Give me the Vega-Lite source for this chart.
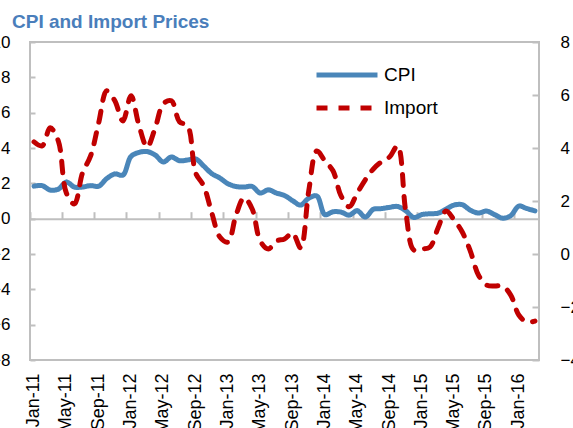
{
  "$schema": "https://vega.github.io/schema/vega-lite/v6.json",
  "width": 509,
  "height": 318,
  "autosize": {"type": "none"},
  "padding": {"left": 30, "top": 42, "right": 34, "bottom": 68},
  "title": {"text": "CPI and Import Prices", "anchor": "start", "frame": "group", "dx": -18, "offset": 1, "fontSize": 19, "fontWeight": "bold", "color": "#4A7EBB", "font": "Liberation Sans"},
  "data": {"values": [
    {"month": "Jan-11", "CPI": 1.84, "Import": 4.23},
    {"month": "Feb-11", "CPI": 1.87, "Import": 4.08},
    {"month": "Mar-11", "CPI": 1.62, "Import": 4.76},
    {"month": "Apr-11", "CPI": 1.67, "Import": 4.27},
    {"month": "May-11", "CPI": 2.07, "Import": 2.3},
    {"month": "Jun-11", "CPI": 1.79, "Import": 1.89},
    {"month": "Jul-11", "CPI": 1.79, "Import": 3.06},
    {"month": "Aug-11", "CPI": 1.87, "Import": 3.7},
    {"month": "Sep-11", "CPI": 1.84, "Import": 4.95},
    {"month": "Oct-11", "CPI": 2.27, "Import": 6.16},
    {"month": "Nov-11", "CPI": 2.53, "Import": 5.78},
    {"month": "Dec-11", "CPI": 2.47, "Import": 5.02},
    {"month": "Jan-12", "CPI": 3.52, "Import": 5.97},
    {"month": "Feb-12", "CPI": 3.75, "Import": 4.84},
    {"month": "Mar-12", "CPI": 3.8, "Import": 4.04},
    {"month": "Apr-12", "CPI": 3.6, "Import": 4.76},
    {"month": "May-12", "CPI": 3.21, "Import": 5.67},
    {"month": "Jun-12", "CPI": 3.49, "Import": 5.78},
    {"month": "Jul-12", "CPI": 3.28, "Import": 4.99},
    {"month": "Aug-12", "CPI": 3.32, "Import": 4.84},
    {"month": "Sep-12", "CPI": 3.38, "Import": 3.06},
    {"month": "Oct-12", "CPI": 2.98, "Import": 2.57},
    {"month": "Nov-12", "CPI": 2.55, "Import": 1.55},
    {"month": "Dec-12", "CPI": 2.3, "Import": 0.64},
    {"month": "Jan-13", "CPI": 1.98, "Import": 0.45},
    {"month": "Feb-13", "CPI": 1.82, "Import": 1.47},
    {"month": "Mar-13", "CPI": 1.79, "Import": 2.12},
    {"month": "Apr-13", "CPI": 1.82, "Import": 1.7},
    {"month": "May-13", "CPI": 1.45, "Import": 0.49},
    {"month": "Jun-13", "CPI": 1.63, "Import": 0.19},
    {"month": "Jul-13", "CPI": 1.45, "Import": 0.49},
    {"month": "Aug-13", "CPI": 1.31, "Import": 0.57},
    {"month": "Sep-13", "CPI": 1.02, "Import": 0.79},
    {"month": "Oct-13", "CPI": 0.77, "Import": 0.23},
    {"month": "Nov-13", "CPI": 1.16, "Import": 2.38},
    {"month": "Dec-13", "CPI": 1.28, "Import": 3.89},
    {"month": "Jan-14", "CPI": 0.23, "Import": 3.51},
    {"month": "Feb-14", "CPI": 0.39, "Import": 3.14},
    {"month": "Mar-14", "CPI": 0.37, "Import": 2.19},
    {"month": "Apr-14", "CPI": 0.2, "Import": 1.78},
    {"month": "May-14", "CPI": 0.45, "Import": 2.3},
    {"month": "Jun-14", "CPI": 0.09, "Import": 2.8},
    {"month": "Jul-14", "CPI": 0.53, "Import": 3.21},
    {"month": "Aug-14", "CPI": 0.57, "Import": 3.48},
    {"month": "Sep-14", "CPI": 0.64, "Import": 3.66},
    {"month": "Oct-14", "CPI": 0.69, "Import": 4.08},
    {"month": "Nov-14", "CPI": 0.45, "Import": 1.62},
    {"month": "Dec-14", "CPI": 0.07, "Import": 0.15},
    {"month": "Jan-15", "CPI": 0.23, "Import": 0.19},
    {"month": "Feb-15", "CPI": 0.28, "Import": 0.26},
    {"month": "Mar-15", "CPI": 0.31, "Import": 0.98},
    {"month": "Apr-15", "CPI": 0.54, "Import": 1.62},
    {"month": "May-15", "CPI": 0.77, "Import": 1.28},
    {"month": "Jun-15", "CPI": 0.79, "Import": 0.83},
    {"month": "Jul-15", "CPI": 0.48, "Import": 0.11},
    {"month": "Aug-15", "CPI": 0.32, "Import": -0.79},
    {"month": "Sep-15", "CPI": 0.43, "Import": -1.17},
    {"month": "Oct-15", "CPI": 0.23, "Import": -1.21},
    {"month": "Nov-15", "CPI": 0.03, "Import": -1.21},
    {"month": "Dec-15", "CPI": 0.17, "Import": -1.55},
    {"month": "Jan-16", "CPI": 0.71, "Import": -2.3},
    {"month": "Feb-16", "CPI": 0.57, "Import": -2.57},
    {"month": "Mar-16", "CPI": 0.44, "Import": -2.53}
  ]},
  "config": {
    "font": "Liberation Sans",
    "view": {"stroke": "#BFBFBF", "strokeWidth": 2},
    "axis": {"grid": false, "labelColor": "#000000", "labelFontSize": 17, "domainColor": "#BFBFBF", "tickColor": "#BFBFBF", "tickWidth": 2, "domainWidth": 2, "labelFont": "Liberation Sans"},
    "legend": {"orient": "none", "legendX": 299, "legendY": 15, "labelFontSize": 19, "labelFont": "Liberation Sans", "labelColor": "#000000", "symbolType": "M-2,0L2,0", "symbolSize": 930, "symbolStrokeWidth": 5, "rowPadding": 5, "labelOffset": 19}
  },
  "layer": [
    {
      "mark": {"type": "line", "interpolate": "catmull-rom", "strokeWidth": 5, "strokeCap": "round", "strokeJoin": "round"},
      "encoding": {
        "x": {"field": "month", "type": "ordinal", "sort": null, "bandPosition": 0.5,
              "scale": {"type": "band", "paddingInner": 0, "paddingOuter": 0},
              "axis": {"orient": "bottom", "title": null, "values": ["Jan-11","May-11","Sep-11","Jan-12","May-12","Sep-12","Jan-13","May-13","Sep-13","Jan-14","May-14","Sep-14","Jan-15","May-15","Sep-15","Jan-16"], "labelAngle": -90, "labelFontSize": 18, "ticks": false, "domain": false, "labelPadding": 13}},
        "y": {"field": "CPI", "type": "quantitative",
              "scale": {"domain": [-8, 10], "nice": false, "zero": false},
              "axis": {"orient": "left", "title": null, "values": [-8,-6,-4,-2,0,2,4,6,8,10], "tickSize": -5, "labelPadding": 25, "domain": false}},
        "color": {"datum": "CPI", "type": "nominal", "scale": {"domain": ["CPI", "Import"], "range": ["#4A86B9", "#C00000"]}, "legend": {"title": null, "encoding": {"symbols": {"update": {"strokeCap": {"value": "round"}}}}}},
        "strokeDash": {"datum": "CPI", "type": "nominal", "scale": {"domain": ["CPI", "Import"], "range": [[1, 0], [11, 11]]}, "legend": {"title": null, "encoding": {"symbols": {"update": {"strokeCap": {"value": "round"}}}}}}
      }
    },
    {
      "mark": {"type": "line", "interpolate": "catmull-rom", "strokeWidth": 5, "strokeCap": "round", "strokeJoin": "round"},
      "encoding": {
        "x": {"field": "month", "type": "ordinal", "sort": null, "bandPosition": 0.5,
              "scale": {"type": "band", "paddingInner": 0, "paddingOuter": 0},
              "axis": {"orient": "top", "title": null, "offset": -176.7, "values": ["Jan-11","May-11","Sep-11","Jan-12","May-12","Sep-12","Jan-13","May-13","Sep-13","Jan-14","May-14","Sep-14","Jan-15","May-15","Sep-15","Jan-16"], "labels": false, "ticks": true, "tickSize": 7, "bandPosition": 0, "domain": true}},
        "y": {"field": "Import", "type": "quantitative",
              "scale": {"domain": [-4, 8], "nice": false, "zero": false},
              "axis": {"orient": "right", "title": null, "values": [-4,-2,0,2,4,6,8], "tickSize": -7, "labelPadding": 28, "domain": false}},
        "color": {"datum": "Import", "type": "nominal"},
        "strokeDash": {"datum": "Import", "type": "nominal"}
      }
    }
  ],
  "resolve": {"scale": {"y": "independent"}, "axis": {"x": "independent", "y": "independent"}}
}
